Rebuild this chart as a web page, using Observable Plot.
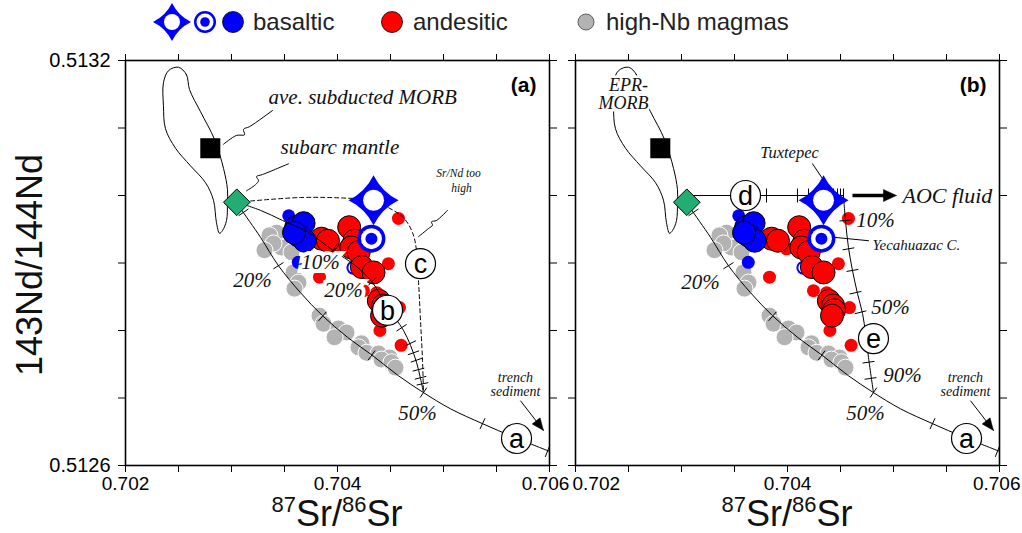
<!DOCTYPE html>
<html>
<head>
<meta charset="utf-8">
<script src="https://cdn.jsdelivr.net/npm/d3@7"></script>
<script src="https://cdn.jsdelivr.net/npm/@observablehq/plot@0.6"></script>
<style>
  body { margin: 0; background: #fff; }
  #chart { position: relative; width: 1022px; height: 533px; overflow: hidden; background: #fff;
           font-family: "Liberation Sans", Arial, sans-serif; }
  #chart > svg { position: absolute; top: 0; }
  .xtitle { position: absolute; top: 496px; width: 300px; text-align: center; font-size: 36px; color: #111; line-height: 1; }
  .xtitle sup { font-size: 22px; vertical-align: 14px; line-height: 0; }
  .ytitle { position: absolute; left: 30px; top: 265px; transform: translate(-50%, -50%) rotate(-90deg);
            font-size: 36px; color: #111; white-space: nowrap; line-height: 1; }
</style>
</head>
<body>
<div id="chart"></div>
<script>
// ---- axes ----
const xDomain = [0.702, 0.706];
const yDomain = [0.5126, 0.5132];
const xTicks = [0.702, 0.7025, 0.703, 0.7035, 0.704, 0.7045, 0.705, 0.7055, 0.706];
const xLabeled = [0.702, 0.704, 0.706];
const yTicks = [0.5126, 0.5127, 0.5128, 0.5129, 0.513, 0.5131, 0.5132];
const yLabeled = [0.5132, 0.5126];

// ---- samples: [87Sr/86Sr, 143Nd/144Nd] ----
const basalticLarge = [[0.70361, 0.512953], [0.70368, 0.512959], [0.70363, 0.512941], [0.70369, 0.512933], [0.70359, 0.512945]];
const basalticSmall = [[0.70354, 0.51297], [0.70363, 0.512901]];
const basalticRingSmall = [[0.70415, 0.512893]];
const yecahuazac = [[0.70432, 0.512936]];
const tuxtepec = [[0.70434, 0.512993]];
const andesiticLarge = [[0.70385, 0.512936], [0.70391, 0.512933], [0.70411, 0.512953], [0.70416, 0.512933], [0.70413, 0.512923],
  [0.7042, 0.512916], [0.70423, 0.512894], [0.70434, 0.512886], [0.70439, 0.512844], [0.70443, 0.512837], [0.70444, 0.51283],
  [0.70442, 0.512822]];
const andesiticSmall = [[0.704575, 0.512966], [0.70399, 0.512921], [0.70448, 0.512899], [0.70383, 0.512879], [0.704245, 0.512859],
  [0.70437, 0.512856], [0.704585, 0.512834], [0.7044, 0.5128], [0.7046, 0.512778]];
const highNb = [[0.703425, 0.512945], [0.703358, 0.512941], [0.703472, 0.512923], [0.703396, 0.512929], [0.703566, 0.512916],
  [0.703311, 0.512919], [0.703585, 0.512886], [0.703632, 0.512871], [0.703594, 0.512862], [0.70383, 0.512822], [0.703868, 0.51281],
  [0.704009, 0.512803], [0.704085, 0.512797], [0.703972, 0.51279], [0.704226, 0.512781], [0.704198, 0.512775], [0.704274, 0.512767],
  [0.704387, 0.512766], [0.704491, 0.51276], [0.704415, 0.512757], [0.704509, 0.512753], [0.704547, 0.512745]];

// ---- end-members ----
const subarcMantle = [[0.70305, 0.51299]];
const subductedMORB = [[0.7028, 0.51307]];

// ---- MORB field outline ----
const morbField = [[0.7025, 0.51319], [0.702575, 0.513179], [0.702604, 0.513157], [0.702708, 0.513124], [0.70284, 0.513083],
  [0.702925, 0.51304], [0.702962, 0.513009], [0.702962, 0.512988], [0.702953, 0.512963], [0.702915, 0.512948], [0.702887, 0.512944],
  [0.702858, 0.51296], [0.70283, 0.512993], [0.702755, 0.513019], [0.702613, 0.513044], [0.702472, 0.51307], [0.702377, 0.513099],
  [0.702358, 0.513133], [0.702358, 0.513167], [0.702406, 0.513185]];

// ---- mixing curves ----
const sedimentCurve = [[0.70305, 0.51299], [0.703085, 0.512981], [0.703274, 0.512938], [0.703443, 0.512896], [0.703651, 0.512856],
  [0.703858, 0.512822], [0.704094, 0.51279], [0.70433, 0.512763], [0.704575, 0.512733], [0.704811, 0.512708], [0.705066, 0.512684],
  [0.705368, 0.512662], [0.705679, 0.512641], [0.706, 0.512621]];
const sedimentTicks = [[0.703113, 0.512975], [0.703443, 0.512896], [0.703858, 0.512821], [0.704321, 0.512763], [0.704811, 0.512708],
  [0.705368, 0.512662], [0.705981, 0.512621]];
const meltCurve = [[0.70305, 0.51299], [0.703274, 0.512978], [0.703481, 0.512963], [0.703726, 0.512945], [0.703953, 0.512919],
  [0.70417, 0.512896], [0.70433, 0.512871], [0.704453, 0.51284], [0.704547, 0.512818], [0.704623, 0.5128], [0.704689, 0.512778],
  [0.704745, 0.512753], [0.704783, 0.512729], [0.704811, 0.512708]];
const meltTicks = [[0.703962, 0.51292], [0.70433, 0.512873], [0.704604, 0.512804], [0.704689, 0.512781], [0.704717, 0.512767],
  [0.704745, 0.512756], [0.704764, 0.512742], [0.704783, 0.51273], [0.704802, 0.512721]];
const highSrNdCurve = [[0.70305, 0.51299], [0.703651, 0.512997], [0.704094, 0.512996], [0.70433, 0.512993], [0.704481, 0.512982],
  [0.704623, 0.512967], [0.704708, 0.512945], [0.704745, 0.512919], [0.704764, 0.512874], [0.704783, 0.512815], [0.704802, 0.512756],
  [0.704811, 0.512708]];
const fluidLine = [[0.70305, 0.513], [0.704528, 0.513]];
const fluidTicks = [[0.703802, 0.513], [0.704094, 0.513], [0.704198, 0.513], [0.704387, 0.513], [0.704434, 0.513], [0.704472, 0.513],
  [0.7045, 0.513], [0.704528, 0.513]];
const fluidMeltCurve = [[0.704528, 0.513], [0.704547, 0.512963], [0.704575, 0.512923], [0.704613, 0.512889], [0.70466, 0.512855],
  [0.704708, 0.512825], [0.704736, 0.512796], [0.704764, 0.51276], [0.704811, 0.512708]];
const fluidMeltTicks = [[0.704547, 0.512963], [0.704575, 0.512921], [0.704613, 0.512889], [0.704642, 0.512856], [0.704689, 0.512827],
  [0.704764, 0.512753], [0.704783, 0.512729]];

// ---- layout ----
const H = 533, MT = 60, MB = 68;
const PW = 424, PH = H - MT - MB;
const kx = PW / (xDomain[1] - xDomain[0]);
const ky = PH / (yDomain[1] - yDomain[0]);
const toS = ([x, y]) => [x * kx, -y * ky];
const shift = ([x, y], [sx, sy]) => [x + sx / kx, y - sy / ky];

function tangentAngle(curve, p) {
  const q = toS(p);
  let best = 0, bd = Infinity;
  for (let i = 0; i < curve.length - 1; i++) {
    const a = toS(curve[i]), b = toS(curve[i + 1]);
    const dx = b[0] - a[0], dy = b[1] - a[1];
    const t = Math.max(0, Math.min(1, ((q[0] - a[0]) * dx + (q[1] - a[1]) * dy) / (dx * dx + dy * dy)));
    const ex = a[0] + t * dx - q[0], ey = a[1] + t * dy - q[1];
    const d = ex * ex + ey * ey;
    if (d < bd) { bd = d; best = Math.atan2(dy, dx); }
  }
  return best;
}
function tickSegments(curve, ticks, len = 12) {
  return ticks.map(p => {
    const th = tangentAngle(curve, p);
    const n = [-Math.sin(th) * len / 2, Math.cos(th) * len / 2];
    const a = shift(p, n), b = shift(p, [-n[0], -n[1]]);
    return {x1: a[0], y1: a[1], x2: b[0], y2: b[1]};
  });
}
function arrowHead(p1, p2, hl = 12, hw = 5) {
  const a = toS(p1), b = toS(p2);
  const dx = b[0] - a[0], dy = b[1] - a[1], L = Math.hypot(dx, dy);
  const ux = dx / L, uy = dy / L, bx = -ux * hl, by = -uy * hl;
  return [[0, 0], [bx - uy * hw, by + ux * hw], [bx + uy * hw, by - ux * hw], [0, 0]].map(o => shift(p2, o));
}

const starSymbol = {
  draw(ctx, size) {
    const R = Math.sqrt(size / Math.PI), c = 0.33 * R;
    ctx.moveTo(0, -R);
    ctx.quadraticCurveTo(c, -c, R, 0);
    ctx.quadraticCurveTo(c, c, 0, R);
    ctx.quadraticCurveTo(-c, c, -R, 0);
    ctx.quadraticCurveTo(-c, -c, 0, -R);
    ctx.closePath();
  }
};

const BLUE = "#0000ff", RED = "#ff0000", GRAY = "#b3b3b3", GREEN = "#23ad73";
const SERIF = "Liberation Serif, Times New Roman, serif";
const SANS = "Liberation Sans, Arial, sans-serif";

const near = (list, d) => list.some(v => Math.abs(v - d) < 1e-9);

function italic(data, size, extra = {}) {
  return Plot.text(data, {x: "x", y: "y", text: "t", fontFamily: SERIF, fontStyle: "italic", fontSize: size, fill: "#111", ...extra});
}

function circledLetters(data) {
  return [
    Plot.dot(data, {x: "x", y: "y", r: 15, fill: "white", stroke: "black", strokeWidth: 1.2}),
    Plot.text(data, {x: "x", y: "y", text: "t", fontFamily: SANS, fontSize: 27, fill: "black", dy: 1})
  ];
}

function samples() {
  return [
    Plot.dot(highNb, {r: 8.5, fill: GRAY, stroke: "white", strokeWidth: 1}),
    Plot.dot(basalticSmall, {r: 6.5, fill: BLUE}),
    Plot.dot(basalticRingSmall, {r: 7, fill: BLUE}),
    Plot.dot(basalticRingSmall, {r: 5, fill: "white"}),
    Plot.dot(basalticRingSmall, {r: 2.5, fill: BLUE}),
    Plot.dot(andesiticSmall, {r: 6.5, fill: RED}),
    Plot.dot(andesiticLarge, {r: 11.5, fill: RED, stroke: "black", strokeWidth: 1}),
    Plot.dot(basalticLarge, {r: 11.5, fill: BLUE, stroke: "black", strokeWidth: 1})
  ];
}

function members() {
  return [
    Plot.dot(subductedMORB, {symbol: "square", r: 11.3, fill: "black"}),
    Plot.dot(subarcMantle, {symbol: "diamond2", r: 12, fill: GREEN, stroke: "black", strokeWidth: 1}),
    Plot.dot(yecahuazac, {r: 14, fill: BLUE}),
    Plot.dot(yecahuazac, {r: 10.5, fill: "white"}),
    Plot.dot(yecahuazac, {r: 6, fill: BLUE}),
    Plot.dot(tuxtepec, {symbol: starSymbol, r: 25, fill: BLUE}),
    Plot.dot(tuxtepec, {r: 10.5, fill: "white"})
  ];
}

const sedimentArrow = [[0.705726, 0.512696], [0.705943, 0.512652]];

// bottom tick labels, grouped by how each sits against the panel edges
function xLabelMarks(groups) {
  return groups.map(g => Plot.axisX({
    ticks: xLabeled.filter(v => near(g.values, v)), anchor: "bottom", tickSize: 0, tickPadding: 11, label: null,
    fontSize: 19, textAnchor: g.textAnchor, dx: g.dx, tickFormat: d3.format(".3f")
  }));
}

function frameAndAxes(showYLabels, labelGroups) {
  return [
    Plot.axisX({ticks: xTicks, anchor: "bottom", tickSize: 7, label: null, tickFormat: () => ""}),
    ...xLabelMarks(labelGroups),
    Plot.axisX({ticks: xTicks, anchor: "top", tickSize: 7, label: null, tickFormat: () => ""}),
    Plot.axisY({ticks: yTicks, anchor: "left", tickSize: 7, tickPadding: 8, label: null, fontSize: 20,
      tickFormat: d => showYLabels && near(yLabeled, d) ? d3.format(".4f")(d) : ""}),
    Plot.axisY({ticks: yTicks, anchor: "right", tickSize: 7, label: null, tickFormat: () => ""}),
    Plot.frame({stroke: "black", strokeWidth: 1.6})
  ];
}

function common(width, ml, mr, marks) {
  return Plot.plot({
    width, height: H, marginLeft: ml, marginRight: mr, marginTop: MT, marginBottom: MB,
    x: {domain: xDomain}, y: {domain: yDomain},
    style: {background: "transparent", fontFamily: SANS, color: "black", overflow: "visible"},
    marks
  });
}

function sedimentParts(labels) {
  return [
    Plot.line(sedimentCurve, {curve: "catmull-rom", stroke: "black", strokeWidth: 1}),
    Plot.link(tickSegments(sedimentCurve, sedimentTicks), {x1: "x1", y1: "y1", x2: "x2", y2: "y2", stroke: "black", strokeWidth: 1}),
    Plot.link([sedimentArrow], {x1: d => d[0][0], y1: d => d[0][1], x2: d => d[1][0], y2: d => d[1][1], stroke: "black", strokeWidth: 1}),
    Plot.line(arrowHead(...sedimentArrow), {fill: "black", stroke: "black", strokeWidth: 0.5}),
    italic([{x: 0.705679, y: 0.51273, t: "trench"}, {x: 0.705679, y: 0.51271, t: "sediment"}], 14),
    italic(labels, 21)
  ];
}

// ---- panel (a) ----
const panelA = common(562, 125, 13, [
  Plot.line(morbField, {curve: "catmull-rom-closed", stroke: "black", strokeWidth: 1}),
  ...samples(),
  ...sedimentParts([{x: 0.703198, y: 0.512874, t: "20%"}, {x: 0.704755, y: 0.512677, t: "50%"}]),
  Plot.line(meltCurve, {curve: "catmull-rom", stroke: "black", strokeWidth: 1}),
  Plot.link(tickSegments(meltCurve, meltTicks), {x1: "x1", y1: "y1", x2: "x2", y2: "y2", stroke: "black", strokeWidth: 1}),
  Plot.line(highSrNdCurve, {curve: "catmull-rom", stroke: "black", strokeWidth: 1, strokeDasharray: "4,3"}),
  Plot.line([[0.702925, 0.513076], [0.703047, 0.513089], [0.703123, 0.51309], [0.703113, 0.513098], [0.70317, 0.513102], [0.703387, 0.513126]],
    {curve: "catmull-rom", stroke: "black", strokeWidth: 1}),
  Plot.line([[0.703142, 0.513007], [0.703226, 0.513016], [0.703255, 0.513022], [0.703236, 0.513028], [0.703292, 0.513031], [0.703538, 0.513047]],
    {curve: "catmull-rom", stroke: "black", strokeWidth: 1}),
  Plot.line([[0.704764, 0.512939], [0.704858, 0.512951], [0.704896, 0.512956], [0.704887, 0.512961], [0.704934, 0.512963], [0.705038, 0.512978]],
    {curve: "catmull-rom", stroke: "black", strokeWidth: 1}),
  italic([{x: 0.70384, y: 0.512901, t: "10%"}, {x: 0.704057, y: 0.512859, t: "20%"}], 21,
    {stroke: "white", strokeWidth: 8, strokeLinejoin: "miter"}),
  italic([{x: 0.703349, y: 0.513145, t: "ave. subducted MORB"}, {x: 0.703462, y: 0.513071, t: "subarc mantle"}], 21, {textAnchor: "start"}),
  italic([{x: 0.705142, y: 0.513033, t: "Sr/Nd too"}, {x: 0.70517, y: 0.513011, t: "high"}], 11.5),
  ...members(),
  ...circledLetters([{x: 0.705689, y: 0.51264, t: "a"}, {x: 0.704472, y: 0.51283, t: "b"}, {x: 0.704783, y: 0.512899, t: "c"}]),
  Plot.text(["(a)"], {frameAnchor: "top-right", text: d => d, dx: -13, dy: 17, fontSize: 21, fontWeight: "bold", fontFamily: SANS}),
  ...frameAndAxes(true, [
    {values: [0.702, 0.704], textAnchor: "middle", dx: 0},
    {values: [0.706], textAnchor: "middle", dx: -4}
  ])
]);

// ---- panel (b) ----
const aocArrow = [[0.704613, 0.513], [0.70498, 0.513]];
const panelB = common(460, 13, 23, [
  Plot.line(morbField, {curve: "catmull-rom-closed", stroke: "black", strokeWidth: 1}),
  ...samples(),
  ...sedimentParts([{x: 0.703179, y: 0.512871, t: "20%"}, {x: 0.704736, y: 0.512677, t: "50%"}]),
  Plot.line(fluidLine, {stroke: "black", strokeWidth: 1}),
  Plot.link(tickSegments(fluidLine, fluidTicks, 14), {x1: "x1", y1: "y1", x2: "x2", y2: "y2", stroke: "black", strokeWidth: 1}),
  Plot.line(fluidMeltCurve, {curve: "catmull-rom", stroke: "black", strokeWidth: 1}),
  Plot.link(tickSegments(fluidMeltCurve, fluidMeltTicks), {x1: "x1", y1: "y1", x2: "x2", y2: "y2", stroke: "black", strokeWidth: 1}),
  Plot.link([aocArrow], {x1: d => d[0][0], y1: d => d[0][1], x2: d => d[1][0], y2: d => d[1][1], stroke: "black", strokeWidth: 3.5}),
  Plot.line(arrowHead(aocArrow[0], [0.705028, 0.513], 13, 6), {fill: "black", stroke: "black", strokeWidth: 0.5}),
  italic([{x: 0.705085, y: 0.513, t: "AOC fluid"}], 22, {textAnchor: "start"}),
  italic([{x: 0.70483, y: 0.512963, t: "10%"}, {x: 0.704972, y: 0.512834, t: "50%"}, {x: 0.705085, y: 0.512733, t: "90%"}], 21),
  Plot.line([[0.704236, 0.513047], [0.70433, 0.513025]], {stroke: "black", strokeWidth: 1}),
  Plot.line([[0.704443, 0.512938], [0.704764, 0.512933]], {stroke: "black", strokeWidth: 1}),
  italic([{x: 0.704019, y: 0.513064, t: "Tuxtepec"}], 16.5),
  italic([{x: 0.704802, y: 0.512926, t: "Yecahuazac C."}], 15, {textAnchor: "start"}),
  italic([{x: 0.7025, y: 0.513163, t: "EPR-"}, {x: 0.702453, y: 0.513136, t: "MORB"}], 18, {stroke: "white", strokeWidth: 5}),
  ...members(),
  ...circledLetters([{x: 0.705689, y: 0.51264, t: "a"}, {x: 0.703604, y: 0.513, t: "d"}, {x: 0.704811, y: 0.512788, t: "e"}]),
  Plot.text(["(b)"], {frameAnchor: "top-right", text: d => d, dx: -13, dy: 17, fontSize: 21, fontWeight: "bold", fontFamily: SANS}),
  ...frameAndAxes(false, [
    {values: [0.702], textAnchor: "start", dx: -3},
    {values: [0.704], textAnchor: "middle", dx: 0},
    {values: [0.706], textAnchor: "end", dx: 21}
  ])
]);

const chart = document.getElementById("chart");
panelA.style.left = "0px";
panelB.style.left = "562px";
chart.append(panelA, panelB);

// ---- legend ----
const ns = "http://www.w3.org/2000/svg";
const legend = document.createElementNS(ns, "svg");
legend.setAttribute("width", 1022);
legend.setAttribute("height", 46);
legend.style.left = "0px";
const add = (tag, attrs, text) => {
  const el = document.createElementNS(ns, tag);
  for (const k in attrs) el.setAttribute(k, attrs[k]);
  if (text) el.textContent = text;
  legend.appendChild(el);
  return el;
};
const sp = d3.path();
starSymbol.draw(sp, Math.PI * 19 * 19);
add("path", {d: sp.toString(), fill: BLUE, transform: "translate(172,22)"});
add("circle", {cx: 172, cy: 22, r: 8, fill: "white"});
add("circle", {cx: 205, cy: 22, r: 11, fill: BLUE});
add("circle", {cx: 205, cy: 22, r: 8.5, fill: "white"});
add("circle", {cx: 205, cy: 22, r: 4.8, fill: BLUE});
add("circle", {cx: 233, cy: 22, r: 10.5, fill: BLUE, stroke: "black", "stroke-width": 0.8});
add("text", {x: 253, y: 30, "font-size": 24, fill: "#222", "font-family": SANS}, "basaltic");
add("circle", {cx: 392, cy: 22, r: 10.5, fill: RED, stroke: "black", "stroke-width": 0.8});
add("text", {x: 413, y: 30, "font-size": 24, fill: "#222", "font-family": SANS}, "andesitic");
add("circle", {cx: 586, cy: 22, r: 8, fill: GRAY, stroke: "#444", "stroke-width": 0.8});
add("text", {x: 606, y: 30, "font-size": 24, fill: "#222", "font-family": SANS}, "high-Nb magmas");
chart.append(legend);

// ---- axis titles ----
for (const cx of [337, 787]) {
  const t = document.createElement("div");
  t.className = "xtitle";
  t.style.left = (cx - 150) + "px";
  t.innerHTML = "<sup>87</sup>Sr/<sup>86</sup>Sr";
  chart.append(t);
}
const yt = document.createElement("div");
yt.className = "ytitle";
yt.textContent = "143Nd/144Nd";
chart.append(yt);
</script>
</body>
</html>
